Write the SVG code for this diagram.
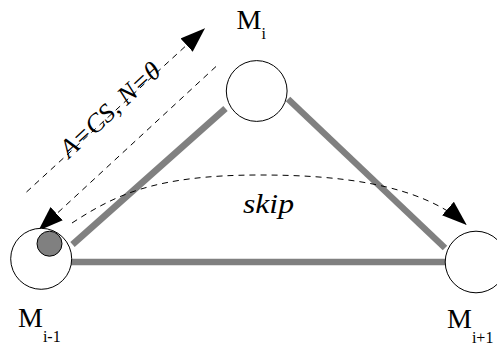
<svg xmlns="http://www.w3.org/2000/svg" width="497" height="345" viewBox="0 0 497 345">
<style>
.edge{stroke:#808080;stroke-width:6.5;fill:none;stroke-linecap:butt}
.dash{stroke:#000;stroke-width:1;fill:none;stroke-dasharray:6 5}
.node{fill:#fff;stroke:#000;stroke-width:1}
text{font-family:'Liberation Serif','Times New Roman',serif;fill:#000}
.it{font-style:italic}
</style>
<defs>
<marker id="ah" markerUnits="userSpaceOnUse" markerWidth="26" markerHeight="18" viewBox="0 0 26 18" refX="25" refY="9" orient="auto">
<path d="M0,0 L25,9 L0,18 z" fill="#000"/>
</marker>
</defs>
<rect width="497" height="345" fill="#fff"/>
<g id="connectors">
<line class="edge" x1="72.5" y1="244.5" x2="225.5" y2="108.5"/>
<line class="edge" x1="288" y1="99" x2="445" y2="248"/>
<line class="edge" x1="71" y1="262" x2="446" y2="262"/>
<line class="dash" x1="26.5" y1="192" x2="205" y2="28.3" marker-end="url(#ah)"/>
<line class="dash" x1="216" y1="66.5" x2="38.3" y2="230.7" marker-end="url(#ah)"/>
<path class="dash" d="M72,223 C115,195 155,175 260,175 C340,175 420,184 466.7,225" marker-end="url(#ah)"/>
<text class="it" font-size="26" transform="translate(69,159) rotate(-42.5)" textLength="127" lengthAdjust="spacingAndGlyphs">A=CS, N=θ</text>
<text class="it" x="243" y="213" font-size="27" textLength="51" lengthAdjust="spacingAndGlyphs">skip</text>
</g>
<g id="node-Mi">
<circle class="node" cx="256.7" cy="91" r="30.4"/>
<text x="236.5" y="29" font-size="28">M<tspan font-size="16" dy="10">i</tspan></text>
</g>
<g id="node-Mi-1">
<circle class="node" cx="41.2" cy="258.8" r="30.5"/>
<circle cx="49.5" cy="243.7" r="12.5" fill="#808080" stroke="#000" stroke-width="1"/>
<text x="18" y="326.7" font-size="28">M<tspan font-size="16" dy="15.6">i-1</tspan></text>
</g>
<g id="node-Mi+1">
<circle class="node" cx="476" cy="262" r="30.8"/>
<text x="447" y="328.3" font-size="28">M<tspan font-size="16" dy="14.7">i+1</tspan></text>
</g>
</svg>
